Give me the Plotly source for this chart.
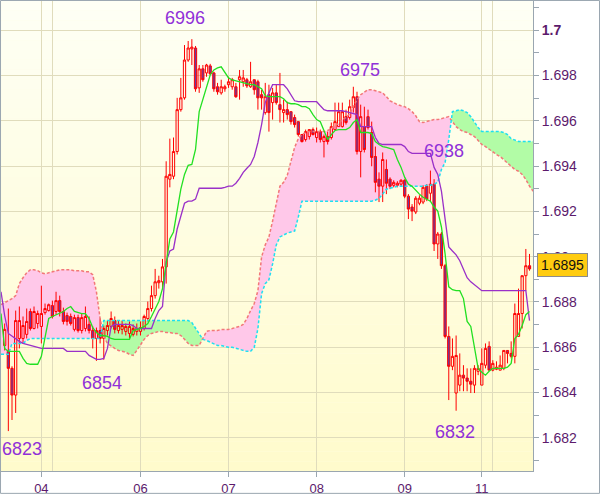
import plotly.graph_objects as go

# ---------------- data ----------------
day_labels = ["04", "06", "07", "08", "09", "11"]
day_label_index = [10, 37, 61, 85, 109, 130]
day_start_index = [10, 13, 37, 61, 85, 109, 130, 133]
price_ticks = [1.682, 1.684, 1.686, 1.688, 1.690, 1.692, 1.694, 1.696, 1.698, 1.700]
price_tick_text = ["1.682", "1.684", "1.686", "1.688", "<b>1.69</b>", "1.692",
                   "1.694", "1.696", "1.698", "<b>1.7</b>"]

open_ = [1.68608, 1.68582, 1.68507, 1.68389, 1.68639, 1.68639, 1.68657, 1.68758, 1.68683, 1.68705,
         1.68692, 1.68753, 1.68762, 1.68784, 1.68758, 1.68806, 1.68758, 1.68740, 1.68736, 1.68679,
         1.68731, 1.68674, 1.68683, 1.68701, 1.68674, 1.68639, 1.68674, 1.68639, 1.68674, 1.68692,
         1.68718, 1.68674, 1.68679, 1.68670, 1.68661, 1.68657, 1.68670, 1.68670, 1.68683, 1.68727,
         1.68771, 1.68828, 1.68885, 1.68889, 1.68955, 1.69342, 1.69355, 1.69464, 1.69649, 1.69701,
         1.69868, 1.69917, 1.69921, 1.69745, 1.69829, 1.69811, 1.69842, 1.69811, 1.69750, 1.69723,
         1.69741, 1.69759, 1.69750, 1.69750, 1.69781, 1.69772, 1.69781, 1.69750, 1.69781, 1.69772,
         1.69715, 1.69636, 1.69715, 1.69680, 1.69723, 1.69671, 1.69636, 1.69649, 1.69640, 1.69614,
         1.69596, 1.69539, 1.69517, 1.69530, 1.69561, 1.69526, 1.69552, 1.69508, 1.69530, 1.69526,
         1.69561, 1.69574, 1.69574, 1.69618, 1.69614, 1.69658, 1.69706, 1.69464, 1.69574, 1.69618,
         1.69548, 1.69442, 1.69342, 1.69311, 1.69385, 1.69342, 1.69315, 1.69315, 1.69320, 1.69337,
         1.69267, 1.69219, 1.69197, 1.69236, 1.69241, 1.69311, 1.69280, 1.69320, 1.69056, 1.69100,
         1.68960, 1.68648, 1.68516, 1.68398, 1.68433, 1.68477, 1.68464, 1.68450, 1.68433, 1.68494,
         1.68433, 1.68521, 1.68604, 1.68499, 1.68503, 1.68499, 1.68507, 1.68586, 1.68573, 1.68560,
         1.68648, 1.68749, 1.68916, 1.68960]
high = [1.68705, 1.68771, 1.68516, 1.68762, 1.68780, 1.68736, 1.68771, 1.68771, 1.68780, 1.68762,
        1.68872, 1.68793, 1.68793, 1.68806, 1.68845, 1.68828, 1.68775, 1.68753, 1.68749, 1.68744,
        1.68744, 1.68749, 1.68780, 1.68736, 1.68692, 1.68687, 1.68727, 1.68696, 1.68718, 1.68758,
        1.68736, 1.68718, 1.68718, 1.68705, 1.68714, 1.68701, 1.68705, 1.68714, 1.68744, 1.68802,
        1.68872, 1.68946, 1.68916, 1.68990, 1.69421, 1.69521, 1.69526, 1.69701, 1.69789, 1.69934,
        1.69952, 1.69960, 1.69930, 1.69846, 1.69846, 1.69851, 1.69851, 1.69816, 1.69767, 1.69781,
        1.69759, 1.69794, 1.69789, 1.69767, 1.69824, 1.69824, 1.69789, 1.69860, 1.69781, 1.69781,
        1.69737, 1.69767, 1.69759, 1.69745, 1.69759, 1.69811, 1.69693, 1.69684, 1.69640, 1.69627,
        1.69596, 1.69539, 1.69561, 1.69561, 1.69570, 1.69570, 1.69561, 1.69539, 1.69552, 1.69592,
        1.69680, 1.69680, 1.69680, 1.69649, 1.69693, 1.69750, 1.69728, 1.69671, 1.69662, 1.69649,
        1.69596, 1.69486, 1.69372, 1.69460, 1.69429, 1.69350, 1.69337, 1.69333, 1.69342, 1.69342,
        1.69276, 1.69232, 1.69267, 1.69271, 1.69315, 1.69320, 1.69380, 1.69342, 1.69109, 1.69109,
        1.68968, 1.68692, 1.68639, 1.68652, 1.68573, 1.68521, 1.68507, 1.68507, 1.68521, 1.68521,
        1.68595, 1.68617, 1.68626, 1.68543, 1.68538, 1.68564, 1.68586, 1.68586, 1.68626, 1.68793,
        1.68859, 1.68916, 1.69034, 1.69012]
low = [1.68586, 1.68230, 1.68279, 1.68310, 1.68595, 1.68617, 1.68639, 1.68674, 1.68679, 1.68683,
       1.68617, 1.68744, 1.68758, 1.68727, 1.68744, 1.68736, 1.68701, 1.68696, 1.68696, 1.68670,
       1.68665, 1.68661, 1.68670, 1.68661, 1.68595, 1.68540, 1.68617, 1.68545, 1.68652, 1.68683,
       1.68661, 1.68661, 1.68657, 1.68652, 1.68639, 1.68648, 1.68652, 1.68652, 1.68674, 1.68714,
       1.68758, 1.68815, 1.68859, 1.68859, 1.68881, 1.69306, 1.69342, 1.69451, 1.69640, 1.69693,
       1.69860, 1.69846, 1.69728, 1.69723, 1.69772, 1.69794, 1.69802, 1.69728, 1.69715, 1.69715,
       1.69728, 1.69745, 1.69737, 1.69701, 1.69693, 1.69750, 1.69745, 1.69745, 1.69715, 1.69649,
       1.69649, 1.69627, 1.69552, 1.69605, 1.69671, 1.69592, 1.69592, 1.69605, 1.69583, 1.69570,
       1.69530, 1.69504, 1.69508, 1.69517, 1.69535, 1.69504, 1.69504, 1.69438, 1.69495, 1.69517,
       1.69561, 1.69574, 1.69570, 1.69583, 1.69605, 1.69636, 1.69451, 1.69350, 1.69460, 1.69561,
       1.69399, 1.69284, 1.69241, 1.69241, 1.69276, 1.69298, 1.69306, 1.69306, 1.69311, 1.69258,
       1.69166, 1.69157, 1.69188, 1.69227, 1.69232, 1.69245, 1.69241, 1.69025, 1.68990, 1.68946,
       1.68639, 1.68367, 1.68499, 1.68320, 1.68406, 1.68406, 1.68406, 1.68398, 1.68398, 1.68477,
       1.68433, 1.68507, 1.68499, 1.68494, 1.68499, 1.68499, 1.68499, 1.68529, 1.68551, 1.68529,
       1.68648, 1.68683, 1.68850, 1.68938]
close = [1.68679, 1.68507, 1.68389, 1.68718, 1.68718, 1.68696, 1.68714, 1.68683, 1.68758, 1.68749,
         1.68749, 1.68771, 1.68788, 1.68736, 1.68806, 1.68758, 1.68714, 1.68714, 1.68705, 1.68731,
         1.68674, 1.68731, 1.68736, 1.68674, 1.68639, 1.68674, 1.68639, 1.68683, 1.68696, 1.68727,
         1.68679, 1.68696, 1.68696, 1.68692, 1.68692, 1.68683, 1.68683, 1.68687, 1.68736, 1.68771,
         1.68828, 1.68889, 1.68894, 1.68955, 1.69355, 1.69363, 1.69464, 1.69649, 1.69701, 1.69868,
         1.69921, 1.69925, 1.69741, 1.69829, 1.69781, 1.69846, 1.69807, 1.69741, 1.69728, 1.69750,
         1.69750, 1.69772, 1.69781, 1.69706, 1.69794, 1.69789, 1.69754, 1.69772, 1.69737, 1.69701,
         1.69701, 1.69706, 1.69636, 1.69723, 1.69680, 1.69649, 1.69649, 1.69627, 1.69596, 1.69583,
         1.69539, 1.69508, 1.69552, 1.69561, 1.69539, 1.69552, 1.69517, 1.69530, 1.69508, 1.69574,
         1.69596, 1.69640, 1.69640, 1.69592, 1.69662, 1.69706, 1.69464, 1.69618, 1.69473, 1.69570,
         1.69438, 1.69328, 1.69311, 1.69429, 1.69324, 1.69311, 1.69328, 1.69324, 1.69337, 1.69267,
         1.69210, 1.69201, 1.69258, 1.69258, 1.69306, 1.69254, 1.69320, 1.69056, 1.69100, 1.68960,
         1.68648, 1.68516, 1.68560, 1.68564, 1.68477, 1.68464, 1.68450, 1.68437, 1.68507, 1.68507,
         1.68529, 1.68595, 1.68499, 1.68529, 1.68512, 1.68521, 1.68586, 1.68573, 1.68560, 1.68749,
         1.68749, 1.68916, 1.68960, 1.68946]

# conversion line (green) and base line (purple), first value is one bar before the first candle
tenkan = [1.68749, 1.68595, 1.68582, 1.68582, 1.68582, 1.68582, 1.68551, 1.68529, 1.68525, 1.68525,
          1.68525, 1.68560, 1.68648, 1.68727, 1.68736, 1.68744, 1.68753, 1.68758, 1.68771, 1.68780,
          1.68758, 1.68753, 1.68749, 1.68749, 1.68727, 1.68687, 1.68665, 1.68652, 1.68652, 1.68648,
          1.68639, 1.68635, 1.68635, 1.68635, 1.68635, 1.68635, 1.68674, 1.68679, 1.68683, 1.68692,
          1.68705, 1.68736, 1.68771, 1.68802, 1.68859, 1.68968, 1.69078, 1.69109, 1.69210, 1.69298,
          1.69363, 1.69403, 1.69407, 1.69473, 1.69640, 1.69693, 1.69745, 1.69802, 1.69824, 1.69833,
          1.69838, 1.69816, 1.69789, 1.69780, 1.69776, 1.69772, 1.69767, 1.69763, 1.69759, 1.69759,
          1.69750, 1.69741, 1.69710, 1.69706, 1.69706, 1.69706, 1.69706, 1.69697, 1.69680, 1.69675,
          1.69675, 1.69671, 1.69662, 1.69662, 1.69653, 1.69627, 1.69605, 1.69596, 1.69552, 1.69517,
          1.69539, 1.69557, 1.69561, 1.69561, 1.69561, 1.69570, 1.69592, 1.69605, 1.69548, 1.69548,
          1.69548, 1.69543, 1.69508, 1.69495, 1.69486, 1.69482, 1.69478, 1.69473, 1.69429, 1.69394,
          1.69350, 1.69320, 1.69311, 1.69293, 1.69276, 1.69262, 1.69254, 1.69245, 1.69219, 1.69201,
          1.69131, 1.69012, 1.68867, 1.68854, 1.68850, 1.68850, 1.68815, 1.68714, 1.68692, 1.68595,
          1.68507, 1.68490, 1.68477, 1.68494, 1.68507, 1.68507, 1.68507, 1.68507, 1.68512, 1.68529,
          1.68639, 1.68657, 1.68696, 1.68744, 1.68758]
kijun = [1.68845, 1.68740, 1.68661, 1.68648, 1.68639, 1.68626, 1.68617, 1.68613, 1.68608, 1.68604,
         1.68600, 1.68595, 1.68595, 1.68595, 1.68595, 1.68595, 1.68595, 1.68595, 1.68582, 1.68582,
         1.68582, 1.68582, 1.68582, 1.68582, 1.68564, 1.68556, 1.68547, 1.68547, 1.68551, 1.68595,
         1.68692, 1.68701, 1.68701, 1.68701, 1.68701, 1.68701, 1.68696, 1.68683, 1.68683, 1.68683,
         1.68683, 1.68683, 1.68727, 1.68762, 1.68780, 1.68977, 1.69025, 1.69034, 1.69122, 1.69175,
         1.69236, 1.69245, 1.69245, 1.69254, 1.69302, 1.69302, 1.69302, 1.69302, 1.69302, 1.69302,
         1.69302, 1.69306, 1.69311, 1.69311, 1.69324, 1.69346, 1.69372, 1.69390, 1.69407, 1.69442,
         1.69504, 1.69583, 1.69680, 1.69723, 1.69759, 1.69759, 1.69759, 1.69759, 1.69741, 1.69715,
         1.69688, 1.69684, 1.69684, 1.69684, 1.69684, 1.69684, 1.69684, 1.69666, 1.69649, 1.69644,
         1.69644, 1.69644, 1.69644, 1.69644, 1.69640, 1.69636, 1.69631, 1.69627, 1.69574, 1.69574,
         1.69574, 1.69574, 1.69526, 1.69500, 1.69495, 1.69495, 1.69495, 1.69495, 1.69495, 1.69495,
         1.69486, 1.69464, 1.69456, 1.69456, 1.69456, 1.69456, 1.69456, 1.69456, 1.69394, 1.69363,
         1.69289, 1.69166, 1.69043, 1.69025, 1.69008, 1.68982, 1.68946, 1.68907, 1.68889, 1.68876,
         1.68863, 1.68850, 1.68850, 1.68850, 1.68850, 1.68850, 1.68850, 1.68850, 1.68850, 1.68850,
         1.68850, 1.68850, 1.68850, 1.68850, 1.68718]

# cloud boundaries (leading spans), first value is one bar before the first candle
span_a = [1.68788, 1.68797, 1.68806, 1.68815, 1.68828, 1.68881, 1.68907, 1.68929, 1.68942, 1.68942,
          1.68938, 1.68929, 1.68924, 1.68929, 1.68933, 1.68938, 1.68942, 1.68942, 1.68942, 1.68942,
          1.68938, 1.68938, 1.68938, 1.68933, 1.68933, 1.68920, 1.68845, 1.68727, 1.68648, 1.68617,
          1.68604, 1.68595, 1.68586, 1.68582, 1.68578, 1.68569, 1.68564, 1.68586, 1.68613, 1.68635,
          1.68652, 1.68661, 1.68665, 1.68670, 1.68670, 1.68665, 1.68665, 1.68661, 1.68661, 1.68652,
          1.68635, 1.68617, 1.68608, 1.68608, 1.68608, 1.68639, 1.68670, 1.68674, 1.68674, 1.68674,
          1.68679, 1.68679, 1.68679, 1.68683, 1.68687, 1.68692, 1.68701, 1.68727, 1.68762, 1.68793,
          1.68850, 1.68999, 1.69052, 1.69087, 1.69157, 1.69241, 1.69311, 1.69328, 1.69359, 1.69421,
          1.69482, 1.69521, 1.69539, 1.69548, 1.69552, 1.69552, 1.69552, 1.69552, 1.69552, 1.69557,
          1.69565, 1.69579, 1.69587, 1.69605, 1.69614, 1.69631, 1.69662, 1.69693, 1.69715, 1.69728,
          1.69737, 1.69737, 1.69732, 1.69728, 1.69723, 1.69706, 1.69688, 1.69680, 1.69671, 1.69666,
          1.69662, 1.69653, 1.69640, 1.69622, 1.69596, 1.69592, 1.69596, 1.69601, 1.69605, 1.69605,
          1.69609, 1.69614, 1.69618, 1.69596, 1.69574, 1.69561, 1.69552, 1.69548, 1.69539, 1.69530,
          1.69513, 1.69495, 1.69486, 1.69473, 1.69460, 1.69451, 1.69442, 1.69429, 1.69412, 1.69399,
          1.69385, 1.69377, 1.69363, 1.69341, 1.69311, 1.69289]
span_b = [1.68569, 1.68569, 1.68569, 1.68617, 1.68617, 1.68617, 1.68617, 1.68630, 1.68639, 1.68639,
          1.68639, 1.68639, 1.68639, 1.68639, 1.68639, 1.68639, 1.68639, 1.68639, 1.68639, 1.68639,
          1.68639, 1.68639, 1.68639, 1.68639, 1.68639, 1.68639, 1.68639, 1.68639, 1.68718, 1.68718,
          1.68718, 1.68718, 1.68718, 1.68718, 1.68718, 1.68718, 1.68718, 1.68718, 1.68718, 1.68718,
          1.68718, 1.68718, 1.68718, 1.68718, 1.68718, 1.68718, 1.68718, 1.68718, 1.68718, 1.68718,
          1.68718, 1.68718, 1.68709, 1.68683, 1.68657, 1.68635, 1.68630, 1.68622, 1.68613, 1.68608,
          1.68608, 1.68604, 1.68600, 1.68600, 1.68595, 1.68591, 1.68586, 1.68582, 1.68582, 1.68600,
          1.68683, 1.68837, 1.68881, 1.68898, 1.68968, 1.69052, 1.69087, 1.69096, 1.69104, 1.69109,
          1.69113, 1.69175, 1.69245, 1.69245, 1.69245, 1.69245, 1.69245, 1.69245, 1.69245, 1.69245,
          1.69245, 1.69245, 1.69245, 1.69245, 1.69245, 1.69245, 1.69245, 1.69245, 1.69245, 1.69245,
          1.69245, 1.69245, 1.69249, 1.69258, 1.69276, 1.69298, 1.69302, 1.69306, 1.69311, 1.69311,
          1.69311, 1.69311, 1.69311, 1.69311, 1.69311, 1.69311, 1.69315, 1.69315, 1.69320, 1.69328,
          1.69385, 1.69416, 1.69517, 1.69640, 1.69644, 1.69649, 1.69644, 1.69636, 1.69618, 1.69592,
          1.69570, 1.69552, 1.69552, 1.69552, 1.69552, 1.69552, 1.69552, 1.69548, 1.69539, 1.69521,
          1.69513, 1.69508, 1.69508, 1.69508, 1.69508, 1.69508]

# marked extremes
label_index = [1, 25, 51, 95, 116, 123]
label_kind = ["low", "low", "high", "high", "high", "low"]

# ---------------- styles ----------------
FONT = "Liberation Sans, Arial, sans-serif"
AXIS_TXT = "#5c1a6c"
MARK_TXT = "#9030d8"
GRID = "#e0dcbc"
AXLINE = "#9aa6b0"
PINK = "#ffc8e9"
GREEN = "#b2fca6"
label_shift = [(14, -18), (6, -22), (-7, 21), (7, 17), (14, 20), (-1, -21)]

bar_x = list(range(len(close)))
line_x = list(range(-1, len(tenkan) - 1))
kijun_x = list(range(-1, len(kijun) - 1))
cloud_x = list(range(-1, len(span_a) - 1))


def with_crossings(xs, a, b):
    X, A, B = [xs[0]], [a[0]], [b[0]]
    for i in range(1, len(xs)):
        d0 = a[i - 1] - b[i - 1]
        d1 = a[i] - b[i]
        if d0 * d1 < 0:
            t = d0 / (d0 - d1)
            xc = xs[i - 1] + t * (xs[i] - xs[i - 1])
            yc = a[i - 1] + t * (a[i] - a[i - 1])
            X.append(xc); A.append(yc); B.append(yc)
        X.append(xs[i]); A.append(a[i]); B.append(b[i])
    return X, A, B


def path_of(xs, ys):
    pts = ["%.4f,%.6f" % (x, y) for x, y in zip(xs, ys)]
    return "M " + " L ".join(pts) + " Z"


cx, ca, cb = with_crossings(cloud_x, span_a, span_b)
upper = [max(p, q) for p, q in zip(ca, cb)]

shapes = []
# background gradient (below the grid)
n = 48
top_rgb = (254, 255, 245)
bot_rgb = (255, 251, 204)
for k in range(n):
    t = (k + 0.5) / n
    col = tuple(round(bot_rgb[j] + (top_rgb[j] - bot_rgb[j]) * t) for j in range(3))
    shapes.append(dict(type="rect", xref="paper", yref="paper", x0=0, x1=1,
                       y0=k / n, y1=(k + 1) / n, fillcolor="rgb(%d,%d,%d)" % col,
                       line=dict(width=0), layer="below"))
# cloud fills (between grid and traces)
shapes.append(dict(type="path", xref="x", yref="y", path=path_of(cx + cx[::-1], upper + cb[::-1]),
                   fillcolor=PINK, line=dict(width=0), layer="between"))
shapes.append(dict(type="path", xref="x", yref="y", path=path_of(cx + cx[::-1], upper + ca[::-1]),
                   fillcolor=GREEN, line=dict(width=0), layer="between"))
# picture frame
shapes.append(dict(type="rect", xref="paper", yref="paper", x0=-0.0009, x1=1.125,
                   y0=-0.0476, y1=1.0011, line=dict(color=AXLINE, width=1),
                   fillcolor="rgba(0,0,0,0)", layer="above"))

fig = go.Figure()
fig.add_trace(go.Candlestick(
    x=bar_x, open=open_, high=high, low=low, close=close,
    increasing=dict(line=dict(color="#ff0000", width=1), fillcolor="rgba(0,0,0,0)"),
    decreasing=dict(line=dict(color="#ff0000", width=1), fillcolor="#6a3aa0"),
    whiskerwidth=0, hoverinfo="skip"))
fig.add_trace(go.Scatter(x=cloud_x, y=span_a, mode="lines",
                         line=dict(color="#f27878", width=1.5, dash="3px,2px"), hoverinfo="skip"))
fig.add_trace(go.Scatter(x=cloud_x, y=span_b, mode="lines",
                         line=dict(color="#1ee0f0", width=1.5, dash="3px,2px"), hoverinfo="skip"))
fig.add_trace(go.Scatter(x=kijun_x, y=kijun, mode="lines",
                         line=dict(color="#9a30c8", width=1.3), hoverinfo="skip"))
fig.add_trace(go.Scatter(x=line_x, y=tenkan, mode="lines",
                         line=dict(color="#22e022", width=1.3), hoverinfo="skip"))

annotations = []
for (i, kind), (dx, dy) in zip(zip(label_index, label_kind), label_shift):
    val = high[i] if kind == "high" else low[i]
    txt = f"{int(round(val * 10000)) % 10000:04d}"
    annotations.append(dict(x=i, y=val, xref="x", yref="y", text=txt, showarrow=False,
                            xanchor="center", yanchor="middle", xshift=dx, yshift=dy,
                            font=dict(family=FONT, size=18, color=MARK_TXT)))
annotations.append(dict(x=1, y=close[-1], xref="paper", yref="y", text=f"{close[-1]:.4f}",
                        showarrow=False, xanchor="left", yanchor="middle", xshift=4, yshift=4,
                        bgcolor="#ffcc10", bordercolor="#8c8c8c", borderwidth=1, borderpad=3,
                        font=dict(family=FONT, size=14, color="#111111")))

fig.update_layout(
    width=600, height=497,
    margin=dict(l=1, r=67, t=1, b=23),
    paper_bgcolor="white", plot_bgcolor="#fffde6",
    showlegend=False, font=dict(family=FONT),
    boxgap=0.12,
    shapes=shapes, annotations=annotations,
    xaxis=dict(range=[-1.0, 143.95], tickmode="array", tickvals=day_label_index, ticktext=day_labels,
               ticks="outside", ticklen=5, tickcolor=AXLINE, showgrid=True, gridcolor=GRID,
               showline=True, linecolor=AXLINE, zeroline=False,
               rangeslider=dict(visible=False),
               tickfont=dict(family=FONT, size=13, color=AXIS_TXT),
               minor=dict(tickmode="array",
                          tickvals=[v for v in day_start_index if v not in day_label_index],
                          showgrid=True, gridcolor=GRID, ticks="")),
    yaxis=dict(side="right", range=[1.680539, 1.701285], tickmode="array", tickvals=price_ticks,
               ticktext=price_tick_text, ticks="outside", ticklen=5, tickcolor=AXLINE,
               showgrid=True, gridcolor=GRID, showline=True, linecolor=AXLINE, zeroline=False,
               tickfont=dict(family=FONT, size=14, color=AXIS_TXT),
               minor=dict(tick0=1.682, dtick=0.001, ticks="outside", ticklen=5,
                          tickcolor=AXLINE, showgrid=False)),
)

fig.write_html("out.html", config={"displayModeBar": False},
               post_script="document.body.style.margin='0';document.body.style.padding='0';")
